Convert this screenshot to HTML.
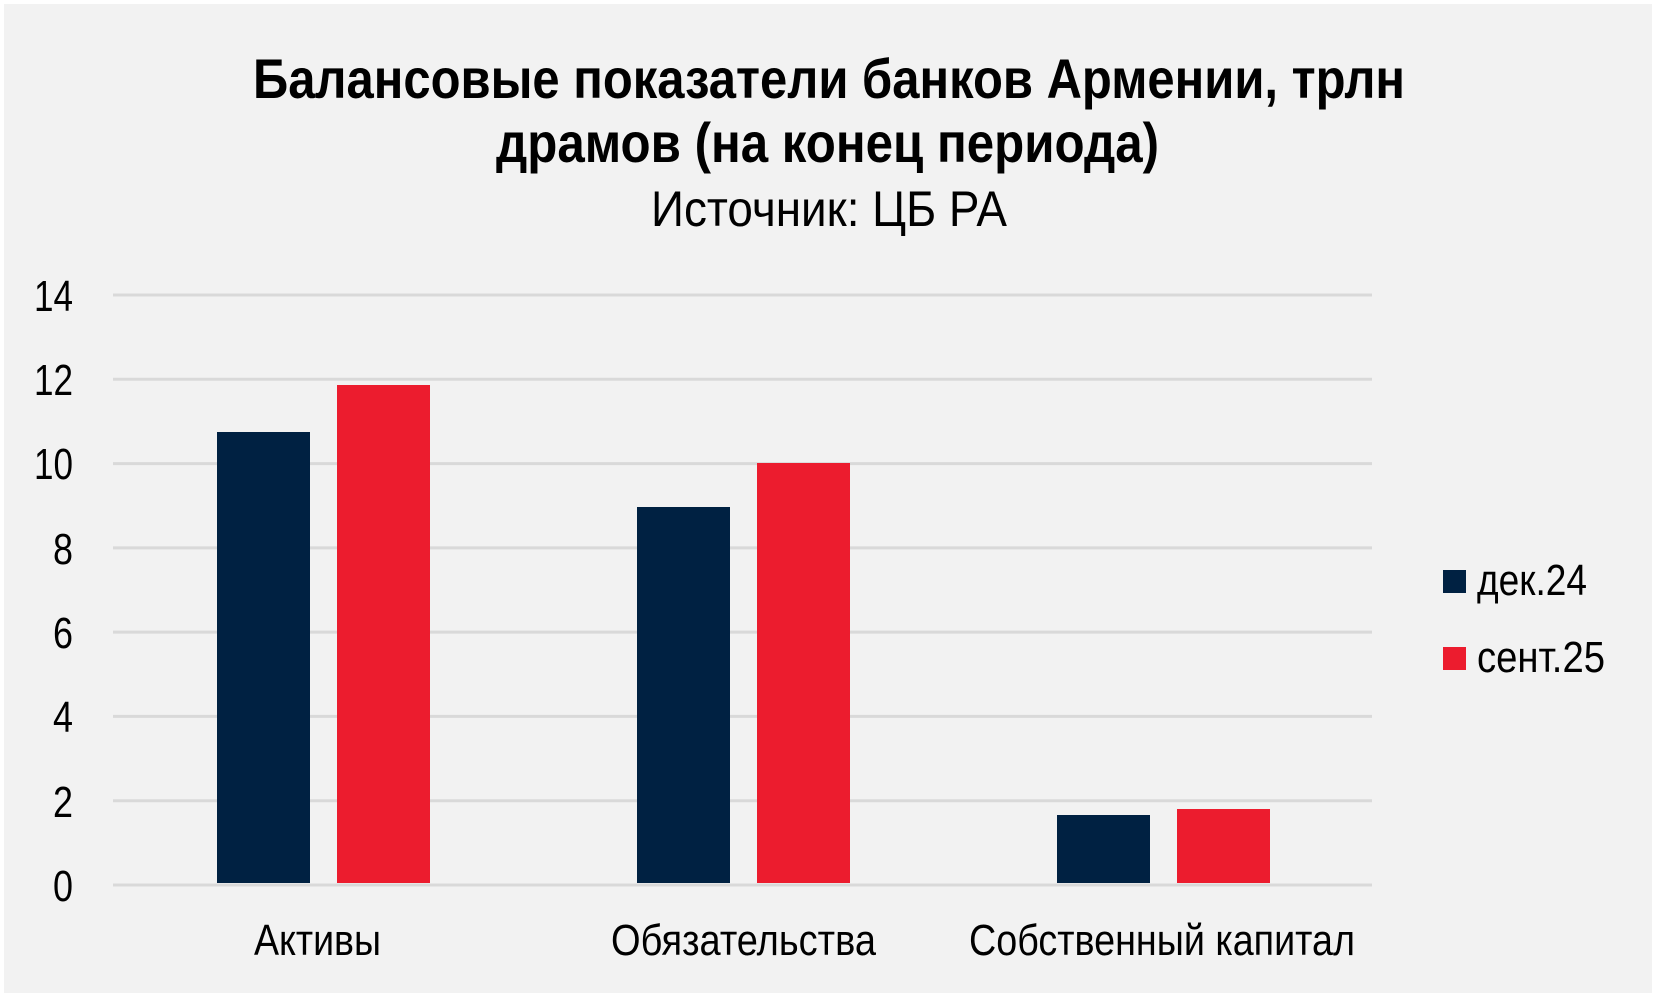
<!DOCTYPE html>
<html><head><meta charset="utf-8"><style>
html,body{margin:0;padding:0;background:#fff}
svg{display:block}
text{font-family:"Liberation Sans",sans-serif;fill:#000}
</style></head><body>
<svg width="1659" height="999" viewBox="0 0 1659 999" xmlns="http://www.w3.org/2000/svg">
<rect x="0" y="0" width="1659" height="999" fill="#fff"/>
<rect x="4" y="4" width="1648" height="989" fill="#f2f2f2"/>
<text x="253" y="98" font-size="56" font-weight="bold" textLength="1152" lengthAdjust="spacingAndGlyphs">Балансовые показатели банков Армении, трлн</text>
<text x="496" y="162" font-size="56" font-weight="bold" textLength="663" lengthAdjust="spacingAndGlyphs">драмов (на конец периода)</text>
<text x="651" y="226" font-size="50" textLength="356" lengthAdjust="spacingAndGlyphs">Источник: ЦБ РА</text>
<g stroke="#d9d9d9" stroke-width="3">
<line x1="113" x2="1372" y1="295" y2="295"/>
<line x1="113" x2="1372" y1="379.3" y2="379.3"/>
<line x1="113" x2="1372" y1="463.6" y2="463.6"/>
<line x1="113" x2="1372" y1="547.9" y2="547.9"/>
<line x1="113" x2="1372" y1="632.1" y2="632.1"/>
<line x1="113" x2="1372" y1="716.4" y2="716.4"/>
<line x1="113" x2="1372" y1="800.7" y2="800.7"/>
<line x1="113" x2="1372" y1="885" y2="885"/>
</g>
<g font-size="44">
<text x="73" y="311" text-anchor="end" textLength="39" lengthAdjust="spacingAndGlyphs">14</text>
<text x="73" y="395" text-anchor="end" textLength="39" lengthAdjust="spacingAndGlyphs">12</text>
<text x="73" y="479" text-anchor="end" textLength="39" lengthAdjust="spacingAndGlyphs">10</text>
<text x="73" y="564" text-anchor="end" textLength="20" lengthAdjust="spacingAndGlyphs">8</text>
<text x="73" y="648" text-anchor="end" textLength="20" lengthAdjust="spacingAndGlyphs">6</text>
<text x="73" y="732" text-anchor="end" textLength="20" lengthAdjust="spacingAndGlyphs">4</text>
<text x="73" y="817" text-anchor="end" textLength="20" lengthAdjust="spacingAndGlyphs">2</text>
<text x="73" y="901" text-anchor="end" textLength="20" lengthAdjust="spacingAndGlyphs">0</text>
</g>
<g fill="#002142">
<rect x="217" y="432" width="93" height="451"/>
<rect x="637" y="507" width="93" height="376"/>
<rect x="1057" y="815" width="93" height="68"/>
</g>
<g fill="#ec1c2e">
<rect x="337" y="385" width="93" height="498"/>
<rect x="757" y="463" width="93" height="420"/>
<rect x="1177" y="809" width="93" height="74"/>
</g>
<g font-size="44">
<text x="254" y="955" textLength="127" lengthAdjust="spacingAndGlyphs">Активы</text>
<text x="611" y="955" textLength="265" lengthAdjust="spacingAndGlyphs">Обязательства</text>
<text x="969" y="955" textLength="386" lengthAdjust="spacingAndGlyphs">Собственный капитал</text>
<rect x="1443" y="570" width="23" height="23" fill="#002142"/>
<rect x="1443" y="647" width="23" height="23" fill="#ec1c2e"/>
<text x="1477" y="595" textLength="110" lengthAdjust="spacingAndGlyphs">дек.24</text>
<text x="1477" y="672" textLength="128" lengthAdjust="spacingAndGlyphs">сент.25</text>
</g>
</svg>
</body></html>
